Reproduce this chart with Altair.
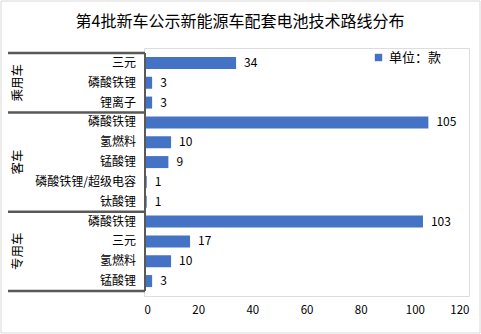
import altair as alt
import pandas as pd

groups = ["乘用车"] * 3 + ["客车"] * 5 + ["专用车"] * 4
techs = ["三元", "磷酸铁锂", "锂离子",
         "磷酸铁锂", "氢燃料", "锰酸锂", "磷酸铁锂/超级电容", "钛酸锂",
         "磷酸铁锂", "三元", "氢燃料", "锰酸锂"]
values = [34, 3, 3, 105, 10, 9, 1, 1, 103, 17, 10, 3]
x_ticks = [0, 20, 40, 60, 80, 100, 120]
title_text = "第4批新车公示新能源车配套电池技术路线分布"
unit_text = "单位：款"

df = pd.DataFrame({"group": groups, "tech": techs, "value": values,
                   "pos": list(range(len(values))), "unit": unit_text})

grp_order = list(dict.fromkeys(groups))
gdf = df.groupby("group", sort=False)["pos"].mean().reset_index()
bounds = [-0.5]
for g in grp_order:
    bounds.append(df[df.group == g]["pos"].max() + 0.5)
bdf = pd.DataFrame({"b": bounds})

n = len(values)
yscale = alt.Scale(domain=[-0.5, n - 0.5], reverse=True, nice=False, zero=False)
xscale = alt.Scale(domain=[0, 120], nice=False)
FONT = "Noto Sans CJK SC"

bars = alt.Chart(df).mark_bar(orient="horizontal", size=12).encode(
    y=alt.Y("pos:Q", scale=yscale, axis=None),
    x=alt.X("value:Q", scale=xscale,
            axis=alt.Axis(values=x_ticks, title=None, domain=False, ticks=False,
                          grid=False, labelFontSize=11.5, labelPadding=8,
                          labelColor="#000000", labelFont=FONT)),
    color=alt.Color("unit:N", scale=alt.Scale(domain=[unit_text], range=["#4472C4"]),
                    legend=alt.Legend(title=None, orient="none", legendX=228, legendY=3,
                                      symbolType="square", symbolSize=55,
                                      labelFontSize=13, labelFont=FONT,
                                      labelColor="#000000")),
)

vals = alt.Chart(df).mark_text(align="left", dx=8, fontSize=12, color="#000000",
                               font=FONT).encode(
    y=alt.Y("pos:Q", scale=yscale), x=alt.X("value:Q", scale=xscale), text="value:Q")

cats = alt.Chart(df).mark_text(align="right", fontSize=12, color="#000000",
                               font=FONT).encode(
    y=alt.Y("pos:Q", scale=yscale), x=alt.value(-8), text="tech:N")

glabels = alt.Chart(gdf).mark_text(angle=270, fontSize=12.5, color="#000000",
                                   font=FONT).encode(
    y=alt.Y("pos:Q", scale=yscale), x=alt.value(-126), text="group:N")

seps = alt.Chart(bdf).mark_rule(color="#595959", strokeWidth=2.5).encode(
    y=alt.Y("b:Q", scale=yscale), x=alt.value(-136), x2=alt.value(1))

vline = alt.Chart(pd.DataFrame({"a": [bounds[0]], "b": [bounds[-1]]})).mark_rule(
    color="#595959", strokeWidth=2).encode(
    y=alt.Y("a:Q", scale=yscale), y2="b:Q", x=alt.value(1))

border = alt.Chart(pd.DataFrame({"t": [title_text]})).mark_rect(
    fill=None, stroke="#D9D9D9", strokeWidth=1).encode(
    x=alt.value(-143), x2=alt.value(336), y=alt.value(-47), y2=alt.value(285))

title = alt.Chart(pd.DataFrame({"t": [title_text]})).mark_text(
    fontSize=16, color="#000000", font=FONT).encode(
    x=alt.value(96), y=alt.value(-26), text="t:N")

chart = alt.layer(border, bars, vals, cats, glabels, seps, vline, title).properties(
    width=325, height=248,
    autosize=alt.AutoSizeParams(type="none"),
    padding={"left": 144, "top": 48, "right": 12, "bottom": 38},
).configure_view(stroke=None).configure(background="#FFFFFF")

chart.save("out.html", embed_options={"renderer": "svg", "actions": False})
